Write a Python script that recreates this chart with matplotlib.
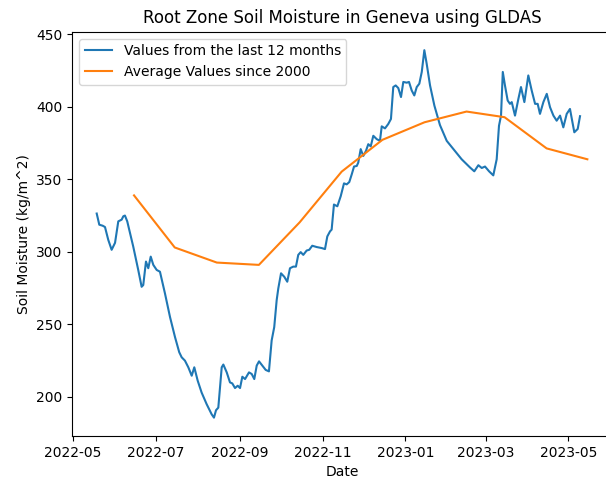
import pandas as pd
import matplotlib.pyplot as plt
import matplotlib.dates as mdates

start = pd.Timestamp("2022-05-01")

# daily-ish values, days counted from 2022-05-01
days = [17.5, 19.4, 21.9, 23.6, 26.0, 28.5, 31.0, 33.4, 35.9, 37.1, 38.3, 40.0,
        44.4, 48.1, 50.6, 51.8, 53.8, 55.5, 57.3, 59.2, 61.7, 64.1, 67.8, 71.5,
        75.2, 78.3, 80.1, 82.5, 85.0, 87.5, 89.4, 91.9, 94.8, 98.5, 102.2, 103.9,
        105.4, 107.1, 109.6, 110.8, 113.3, 115.7, 117.4, 119.4, 121.4, 123.1, 124.8,
        126.8, 129.7, 131.7, 133.6, 135.4, 137.1, 139.5, 142.0, 144.4, 146.4, 148.3,
        150.1, 151.3, 153.3, 155.7, 157.9, 159.9, 162.3, 164.3, 166.0, 167.8, 169.7,
        172.2, 174.1, 176.3, 179.6, 183.3, 185.7, 187.4, 189.4, 190.6, 192.3, 194.8,
        197.3, 199.7, 201.7, 203.6, 205.4, 207.1, 209.1, 210.2, 212.0, 213.9, 215.9,
        217.6, 219.4, 221.3, 223.8, 226.2, 227.5, 229.9, 232.3, 234.3, 236.0, 237.8,
        239.7, 241.7, 243.4, 245.9, 247.6, 249.6, 251.5, 253.3, 255.2, 257.0, 258.9,
        260.6, 263.1, 266.3, 270.4, 275.4, 280.3, 286.4, 288.9, 292.6, 295.7, 298.7,
        301.2, 303.6, 306.6, 309.7, 312.2, 313.9, 315.4, 316.7, 318.3, 320.3, 322.0,
        323.3, 325.7, 328.2, 330.1, 332.6, 335.5, 338.0, 340.5, 342.4, 344.1, 346.6,
        349.1, 351.5, 354.0, 356.4, 358.9, 361.3, 363.8, 366.2, 369.4, 371.9, 373.6]
values = [326.3, 318.6, 317.9, 317.0, 308.2, 301.3, 306.1, 320.9, 322.1, 324.4, 324.9, 320.9,
          303.6, 287.4, 275.8, 277.0, 293.2, 288.6, 296.6, 290.9, 287.4, 286.2, 271.2, 255.0,
          241.1, 230.7, 227.2, 224.9, 220.3, 214.5, 220.3, 211.1, 202.9, 194.9, 187.9, 185.6,
          190.7, 192.5, 220.3, 222.2, 216.8, 209.9, 209.2, 206.0, 207.6, 206.0, 213.8,
          212.2, 216.8, 215.7, 212.2, 221.5, 224.4, 221.5, 218.5, 217.5, 238.8, 248.0,
          266.6, 274.7, 285.1, 282.7, 279.3, 288.6, 289.7, 289.7, 297.8, 299.7, 297.8,
          300.8, 301.3, 304.1, 303.2, 302.5, 301.8, 310.5, 314.0, 315.2, 332.5, 331.3,
          338.3, 347.1, 346.4, 348.0, 353.3, 358.7, 359.1, 361.4, 370.7, 366.0, 369.5,
          374.1, 372.6, 379.9, 377.6, 376.4, 386.4, 385.0, 388.0, 391.5, 413.5, 414.6,
          412.8, 406.6, 417.0, 416.5, 417.0, 411.1, 407.7, 413.5, 415.8, 423.9, 438.9,
          429.7, 414.6, 400.7, 387.3, 376.4, 370.7, 363.7, 361.4, 358.0, 355.4, 359.6,
          357.7, 358.7, 355.4, 352.6, 363.7, 386.8, 393.8, 423.9, 414.6, 404.2, 401.9,
          403.1, 393.8, 405.4, 413.5, 403.1, 421.5, 411.1, 401.9, 401.9, 395.0, 403.1,
          408.8, 399.6, 393.8, 390.3, 393.8, 385.7, 395.0, 398.4, 382.3, 384.6, 393.4]

# monthly averages since 2000 (mid-month)
avg_months = ["2022-06-15", "2022-07-15", "2022-08-15", "2022-09-15", "2022-10-15",
              "2022-11-15", "2022-12-15", "2023-01-15", "2023-02-15", "2023-03-15",
              "2023-04-15", "2023-05-15"]
avg_values = [338.8, 302.9, 292.5, 290.9, 320.2, 355.2, 377.1, 389.2, 396.6, 392.7,
              371.2, 363.7]

dates = start + pd.to_timedelta(days, unit="D")
avg_dates = pd.to_datetime(avg_months)

fig = plt.figure(figsize=(6.06, 4.82), dpi=100)
# axes runs a little past the right edge of the picture (right spine is cut off)
ax = fig.add_axes([0.1191, 0.0954, 0.8906, 0.8386])

ax.plot(dates, values, label="Values from the last 12 months")
ax.plot(avg_dates, avg_values, label="Average Values since 2000")

ax.xaxis.set_major_locator(mdates.MonthLocator(bymonth=[1, 3, 5, 7, 9, 11]))
ax.xaxis.set_major_formatter(mdates.DateFormatter("%Y-%m"))

ax.set_title("Root Zone Soil Moisture in Geneva using GLDAS")
ax.set_xlabel("Date")
ax.set_ylabel("Soil Moisture (kg/m^2)")
ax.legend(loc="upper left")

fig.savefig("out.png", dpi=100)
